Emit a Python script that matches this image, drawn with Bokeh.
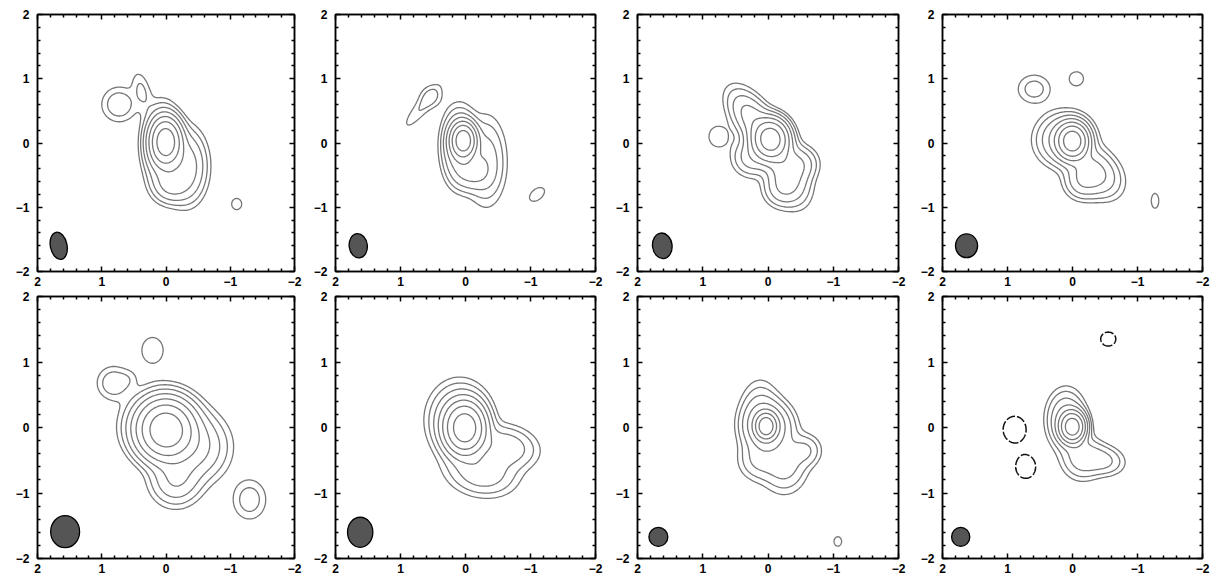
import numpy as np
from bokeh.plotting import figure
from bokeh.layouts import column, row
from bokeh.models import Range1d, FixedTicker, LinearAxis
from bokeh.embed import file_html
from bokeh.resources import INLINE

# Contour levels, relative to a peak of 100 (factor-of-two steps)
LEVELS = [1, 2, 4, 8, 16, 32, 64]
NEG_LEVELS = [1, 50]

# Axis ticks (arcsec offsets)
MAJOR_TICKS = [-2, -1, 0, 1, 2]
MINOR_TICKS = [-1.8, -1.6, -1.4, -1.2, -0.8, -0.6, -0.4, -0.2,
               0.2, 0.4, 0.6, 0.8, 1.2, 1.4, 1.6, 1.8]
TICK_LABELS = {2: "2", 1: "1", 0: "0", -1: "\u22121", -2: "\u22122"}

# Brightness components of each map:
# (x, y, peak, sigma_major, sigma_minor, position angle deg, east of north)
MAP_A = [
    (0.00, 0.02, 100, 0.19, 0.125, 0),
    (0.08, -0.05, 12, 0.33, 0.15, 0),
    (-0.32, -0.36, 12, 0.30, 0.17, 0),
    (-0.08, -0.64, 9, 0.16, 0.16, 0),
    (0.38, 0.82, 2.2, 0.20, 0.09, 14),
    (0.73, 0.60, 3.5, 0.17, 0.17, 0),
    (-1.10, -0.95, 1.6, 0.09, 0.08, 0),
]
MAP_B = [
    (0.03, 0.04, 100, 0.14, 0.10, 0),
    (0.10, -0.05, 14, 0.30, 0.14, 0),
    (-0.10, -0.45, 8, 0.16, 0.16, 0),
    (-0.32, -0.28, 6, 0.38, 0.17, 0),
    (0.68, 0.55, 1.9, 0.30, 0.08, -39),
    (0.53, 0.72, 1.8, 0.12, 0.12, 0),
    (-1.10, -0.80, 1.7, 0.13, 0.08, -50),
]
MAP_C = [
    (-0.04, 0.06, 100, 0.16, 0.14, 0),
    (0.22, 0.35, 12, 0.30, 0.15, 35),
    (-0.28, -0.40, 12, 0.30, 0.17, 20),
    (-0.52, -0.32, 5, 0.15, 0.15, 0),
    (0.25, -0.22, 6, 0.17, 0.17, 0),
    (-0.20, -0.72, 5, 0.16, 0.16, 0),
    (0.77, 0.10, 1.7, 0.15, 0.13, 0),
]
MAP_D = [
    (0.00, 0.03, 100, 0.14, 0.12, 0),
    (0.12, 0.05, 12, 0.22, 0.23, 0),
    (-0.35, -0.45, 10, 0.25, 0.18, 45),
    (-0.15, -0.60, 6, 0.16, 0.16, 0),
    (0.59, 0.84, 2.8, 0.17, 0.15, 90),
    (-0.06, 1.00, 1.5, 0.12, 0.12, 0),
    (-1.27, -0.90, 1.4, 0.14, 0.07, 0),
]
MAP_E = [
    (0.00, -0.04, 100, 0.23, 0.22, 0),
    (0.05, 0.02, 14, 0.27, 0.30, 0),
    (-0.45, -0.30, 10, 0.28, 0.28, 0),
    (-0.15, -0.80, 8, 0.22, 0.22, 0),
    (0.82, 0.68, 3.4, 0.16, 0.16, 0),
    (0.58, 0.74, 1.0, 0.10, 0.10, 0),
    (0.21, 1.18, 1.6, 0.20, 0.17, 0),
    (-1.30, -1.10, 3.0, 0.20, 0.17, 0),
]
MAP_F = [
    (0.01, -0.01, 100, 0.20, 0.16, 0),
    (0.10, 0.12, 10, 0.30, 0.25, 0),
    (-0.62, -0.30, 7, 0.27, 0.18, 80),
    (-0.25, -0.68, 7, 0.30, 0.20, 80),
]
MAP_G = [
    (0.03, 0.02, 100, 0.105, 0.085, 0),
    (0.00, 0.02, 16, 0.20, 0.20, 0),
    (0.12, 0.15, 6, 0.30, 0.17, 0),
    (-0.25, -0.55, 6, 0.25, 0.20, 0),
    (-0.58, -0.35, 4, 0.14, 0.14, 0),
    (0.15, -0.50, 4, 0.18, 0.18, 0),
    (-1.07, -1.74, 1.6, 0.075, 0.06, 0),
]
MAP_H = [
    (0.00, 0.01, 100, 0.12, 0.10, 0),
    (0.10, 0.12, 10, 0.24, 0.16, 0),
    (-0.15, -0.46, 6, 0.19, 0.18, 0),
    (-0.47, -0.50, 5, 0.19, 0.13, 80),
    (0.89, -0.03, -2.0, 0.17, 0.15, 0),
    (0.72, -0.60, -2.0, 0.15, 0.13, 0),
    (-0.55, 1.35, -1.6, 0.12, 0.11, 90),
]
MAPS = [MAP_A, MAP_B, MAP_C, MAP_D, MAP_E, MAP_F, MAP_G, MAP_H]

# Restoring beam of each map (centre, full width along x, full height along y, tilt rad)
BEAM_X = [1.67, 1.65, 1.62, 1.63, 1.57, 1.62, 1.68, 1.72]
BEAM_Y = [-1.60, -1.60, -1.60, -1.60, -1.59, -1.60, -1.67, -1.67]
BEAM_W = [0.26, 0.28, 0.30, 0.34, 0.45, 0.39, 0.29, 0.28]
BEAM_H = [0.43, 0.38, 0.40, 0.37, 0.49, 0.46, 0.29, 0.29]
BEAM_ANGLE = [0.2, 0.12, 0.12, 0.0, 0.0, 0.0, 0.0, 0.0]

CONTOUR_COLOR = "#767676"
NEG_COLOR = "#111111"
BEAM_FILL = "#555555"
LABEL_FONT = "Liberation Sans"

GRID = np.linspace(-2.0, 2.0, 241)


def brightness(components):
    xx, yy = np.meshgrid(GRID, GRID)
    z = np.zeros_like(xx)
    for x0, y0, peak, smaj, smin, pa in components:
        t = np.deg2rad(pa)
        dx, dy = xx - x0, yy - y0
        u = dx * np.sin(t) + dy * np.cos(t)
        v = dx * np.cos(t) - dy * np.sin(t)
        z += peak * np.exp(-0.5 * ((u / smaj) ** 2 + (v / smin) ** 2))
    return z


def style_axis(ax, labels=True):
    ax.ticker = FixedTicker(ticks=MAJOR_TICKS, minor_ticks=MINOR_TICKS)
    ax.major_tick_in = 5
    ax.major_tick_out = 0
    ax.minor_tick_in = 3
    ax.minor_tick_out = 0
    ax.major_tick_line_color = "black"
    ax.minor_tick_line_color = "black"
    ax.major_tick_line_width = 1.5
    ax.minor_tick_line_width = 1.5
    ax.axis_line_color = "black"
    ax.axis_line_width = 1.5
    if labels:
        ax.major_label_overrides = TICK_LABELS
        ax.major_label_text_font = LABEL_FONT
        ax.major_label_text_font_style = "bold"
        ax.major_label_text_font_size = "12px"
        ax.major_label_text_color = "black"
        ax.major_label_standoff = 5
    else:
        # mirrored tick marks only
        ax.major_label_text_font_size = "1px"
        ax.major_label_text_color = None
        ax.major_label_standoff = 0


def panel(i, width, height, left, right, top, bottom):
    p = figure(width=width, height=height,
               x_range=Range1d(2, -2), y_range=Range1d(-2, 2),
               output_backend="svg", toolbar_location=None,
               min_border_left=left, min_border_right=right,
               min_border_top=top, min_border_bottom=bottom)
    p.grid.visible = False
    p.outline_line_color = "black"
    p.outline_line_width = 1.5
    p.background_fill_color = "white"
    p.border_fill_color = "white"
    for ax in p.xaxis + p.yaxis:
        style_axis(ax)
    p.yaxis.major_label_standoff = 8
    top_ax = LinearAxis()
    right_ax = LinearAxis()
    style_axis(top_ax, labels=False)
    style_axis(right_ax, labels=False)
    p.add_layout(top_ax, "above")
    p.add_layout(right_ax, "right")

    z = brightness(MAPS[i])
    p.contour(GRID, GRID, z, LEVELS, line_color=CONTOUR_COLOR, line_width=1.3)
    if (z < -LEVELS[0]).any():
        p.contour(GRID, GRID, -z, NEG_LEVELS, line_color=NEG_COLOR,
                  line_width=1.5, line_dash="9 2")

    p.ellipse(x=[BEAM_X[i]], y=[BEAM_Y[i]], width=[BEAM_W[i]], height=[BEAM_H[i]],
              angle=[BEAM_ANGLE[i]], fill_color=BEAM_FILL, line_color="black",
              line_width=1.3)
    return p


COL_WIDTH = [304, 302, 302, 306]
COL_LEFT = [37, 31, 31, 34]
COL_RIGHT = [10, 11, 10, 12]

top_row = [panel(c, COL_WIDTH[c], 289, COL_LEFT[c], COL_RIGHT[c], 14, 18) for c in range(4)]
bottom_row = [panel(4 + c, COL_WIDTH[c], 291, COL_LEFT[c], COL_RIGHT[c], 7, 22) for c in range(4)]

layout = column(row(*top_row), row(*bottom_row))

with open("out.html", "w") as f:
    f.write(file_html(layout, INLINE))
